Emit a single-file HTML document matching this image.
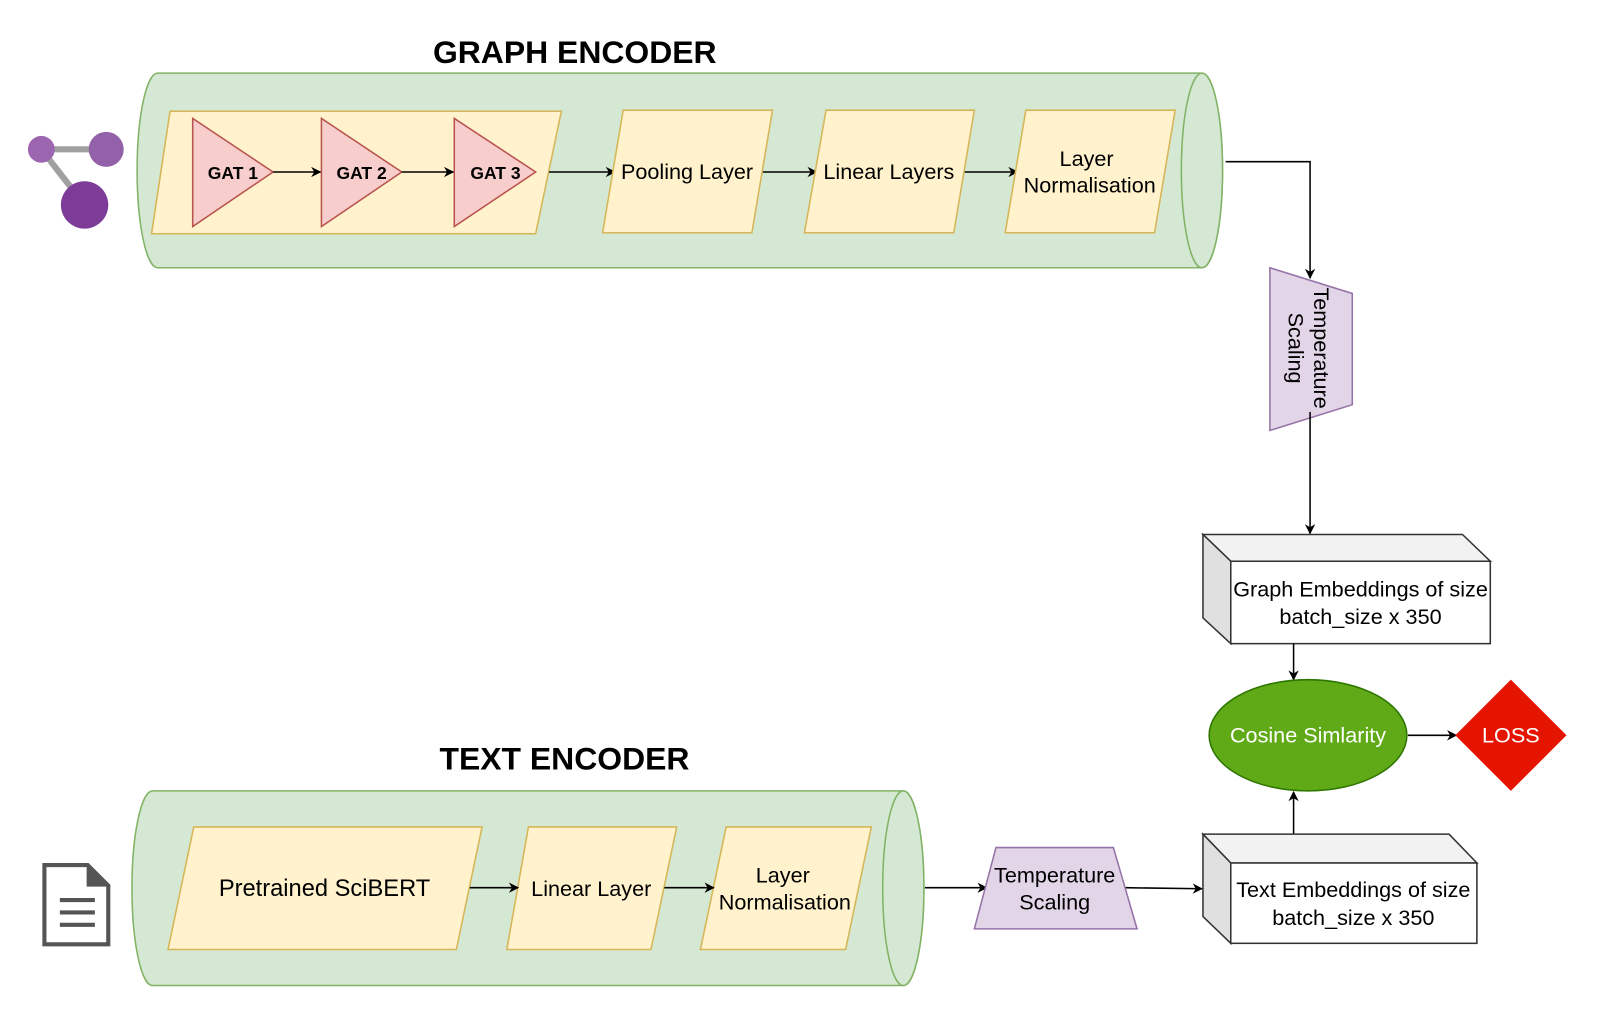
<!DOCTYPE html>
<html><head><meta charset="utf-8"><style>html,body{margin:0;padding:0;background:#fff}svg{display:block}</style></head>
<body>
<svg width="1614" height="1036" viewBox="0 0 1567 1006" xmlns="http://www.w3.org/2000/svg" font-family="Liberation Sans, Arial, sans-serif">
<defs>
<marker id="ar" markerWidth="10" markerHeight="10" refX="9" refY="5" orient="auto" markerUnits="userSpaceOnUse"><path d="M0,0 L10,5 L0,10 L3,5 z" fill="#000"/></marker>
</defs>
<text x="558" y="61" font-size="31" font-weight="bold" text-anchor="middle">GRAPH ENCODER</text>
<path d="M153,71 L1167,71 A20,94.5 0 0 1 1167,260 L153,260 A20,94.5 0 0 1 153,71 Z" fill="#d5e8d4" stroke="#82b366" stroke-width="1.5"/>
<ellipse cx="1167" cy="165.5" rx="20" ry="94.5" fill="#d5e8d4" stroke="#82b366" stroke-width="1.5"/>
<polygon points="165,108 545,108 520,227 147,227" fill="#fff2cc" stroke="#d6b656" stroke-width="1.5"/>
<polygon points="187,115 265,167 187,220" fill="#f8cecc" stroke="#b85450" stroke-width="1.5"/>
<polygon points="312,115 390,167 312,220" fill="#f8cecc" stroke="#b85450" stroke-width="1.5"/>
<polygon points="441,115 520,167 441,220" fill="#f8cecc" stroke="#b85450" stroke-width="1.5"/>
<g font-size="17" font-weight="bold" text-anchor="middle"><text x="226" y="174">GAT 1</text><text x="351" y="174">GAT 2</text><text x="481" y="174">GAT 3</text></g>
<g stroke="#000" stroke-width="1.5" marker-end="url(#ar)">
<line x1="265" y1="167" x2="311" y2="167"/><line x1="390" y1="167" x2="440" y2="167"/>
<line x1="533" y1="167" x2="597" y2="167"/><line x1="738" y1="167" x2="793" y2="167"/>
<line x1="934" y1="167" x2="988" y2="167"/>
</g>
<g fill="#fff2cc" stroke="#d6b656" stroke-width="1.5">
<polygon points="605,107 750,107 730,226 585,226"/>
<polygon points="802,107 946,107 926,226 781,226"/>
<polygon points="996,107 1141,107 1121,226 976,226"/>
</g>
<g font-size="21" text-anchor="middle">
<text x="667" y="174">Pooling Layer</text>
<text x="863" y="174">Linear Layers</text>
<text x="1055" y="161">Layer</text><text x="1058" y="187">Normalisation</text>
</g>
<g stroke="#a0a0a0" stroke-width="6"><line x1="40" y1="145" x2="103" y2="145"/><line x1="40" y1="145" x2="82" y2="199"/></g>
<circle cx="40" cy="145" r="13" fill="#9b65b0"/><circle cx="103" cy="145" r="17" fill="#9360aa"/><circle cx="82" cy="199" r="23" fill="#7d3c98"/>
<polyline points="1190,157 1272,157 1272,270" fill="none" stroke="#000" stroke-width="1.5" marker-end="url(#ar)"/>
<polygon points="1233,260 1313,285 1313,393 1233,418" fill="#e1d5e7" stroke="#9673a6" stroke-width="1.5"/>
<g font-size="21" text-anchor="middle">
<text transform="translate(1276,338) rotate(90)">Temperature</text>
<text transform="translate(1251,338) rotate(90)">Scaling</text>
</g>
<line x1="1272" y1="400" x2="1272" y2="518" stroke="#000" stroke-width="1.5" marker-end="url(#ar)"/>
<polygon points="1168,519 1420,519 1447,545 1195,545" fill="#f2f2f2" stroke="#333" stroke-width="1.5"/>
<polygon points="1168,519 1195,545 1195,625 1168,600" fill="#e0e0e0" stroke="#333" stroke-width="1.5"/>
<rect x="1195" y="545" width="252" height="80" fill="#fff" stroke="#333" stroke-width="1.5"/>
<g font-size="21" text-anchor="middle"><text x="1321" y="579">Graph Embeddings of size</text><text x="1321" y="606">batch_size x 350</text></g>
<line x1="1256" y1="625" x2="1256" y2="660" stroke="#000" stroke-width="1.5" marker-end="url(#ar)"/>
<ellipse cx="1270" cy="714" rx="96" ry="54" fill="#60a917" stroke="#2d7600" stroke-width="1.5"/>
<text x="1270" y="721" font-size="21" fill="#fff" text-anchor="middle">Cosine Simlarity</text>
<line x1="1367" y1="714" x2="1414" y2="714" stroke="#000" stroke-width="1.5" marker-end="url(#ar)"/>
<polygon points="1467,660 1521,714 1467,768 1413,714" fill="#e51400"/>
<text x="1467" y="721" font-size="21" fill="#fff" text-anchor="middle">LOSS</text>
<line x1="1256" y1="810" x2="1256" y2="769" stroke="#000" stroke-width="1.5" marker-end="url(#ar)"/>
<polygon points="1168,810 1407,810 1434,838 1195,838" fill="#f2f2f2" stroke="#333" stroke-width="1.5"/>
<polygon points="1168,810 1195,838 1195,916 1168,890" fill="#e0e0e0" stroke="#333" stroke-width="1.5"/>
<rect x="1195" y="838" width="239" height="78" fill="#fff" stroke="#333" stroke-width="1.5"/>
<g font-size="21" text-anchor="middle"><text x="1314" y="871">Text Embeddings of size</text><text x="1314" y="898">batch_size x 350</text></g>
<text x="548" y="747" font-size="31" font-weight="bold" text-anchor="middle">TEXT ENCODER</text>
<path d="M148,768 L877,768 A20,94.5 0 0 1 877,957 L148,957 A20,94.5 0 0 1 148,768 Z" fill="#d5e8d4" stroke="#82b366" stroke-width="1.5"/>
<ellipse cx="877" cy="862.5" rx="20" ry="94.5" fill="#d5e8d4" stroke="#82b366" stroke-width="1.5"/>
<g fill="#fff2cc" stroke="#d6b656" stroke-width="1.5">
<polygon points="188,803 468,803 443,922 163,922"/>
<polygon points="513,803 657,803 632,922 492,922"/>
<polygon points="705,803 846,803 821,922 680,922"/>
</g>
<g font-size="21" text-anchor="middle">
<text x="315" y="870" font-size="23">Pretrained SciBERT</text>
<text x="574" y="870">Linear Layer</text>
<text x="760" y="857">Layer</text><text x="762" y="883">Normalisation</text>
</g>
<g stroke="#000" stroke-width="1.5" marker-end="url(#ar)">
<line x1="456" y1="862" x2="503" y2="862"/><line x1="645" y1="862" x2="693" y2="862"/>
<line x1="898" y1="862" x2="958" y2="862"/><line x1="1092" y1="862" x2="1167" y2="863"/>
</g>
<polygon points="967,823 1081,823 1104,902 946,902" fill="#e1d5e7" stroke="#9673a6" stroke-width="1.5"/>
<g font-size="21" text-anchor="middle"><text x="1024" y="857">Temperature</text><text x="1024" y="883">Scaling</text></g>
<path d="M43,840 L85,840 L105,860 L105,917 L43,917 Z" fill="#fff" stroke="#555" stroke-width="4"/>
<path d="M85,840 L105,860 L85,860 Z" fill="#555" stroke="#555" stroke-width="2"/>
<g stroke="#555" stroke-width="4"><line x1="58" y1="874" x2="92" y2="874"/><line x1="58" y1="886" x2="92" y2="886"/><line x1="58" y1="898" x2="92" y2="898"/></g>
</svg>
</body></html>
